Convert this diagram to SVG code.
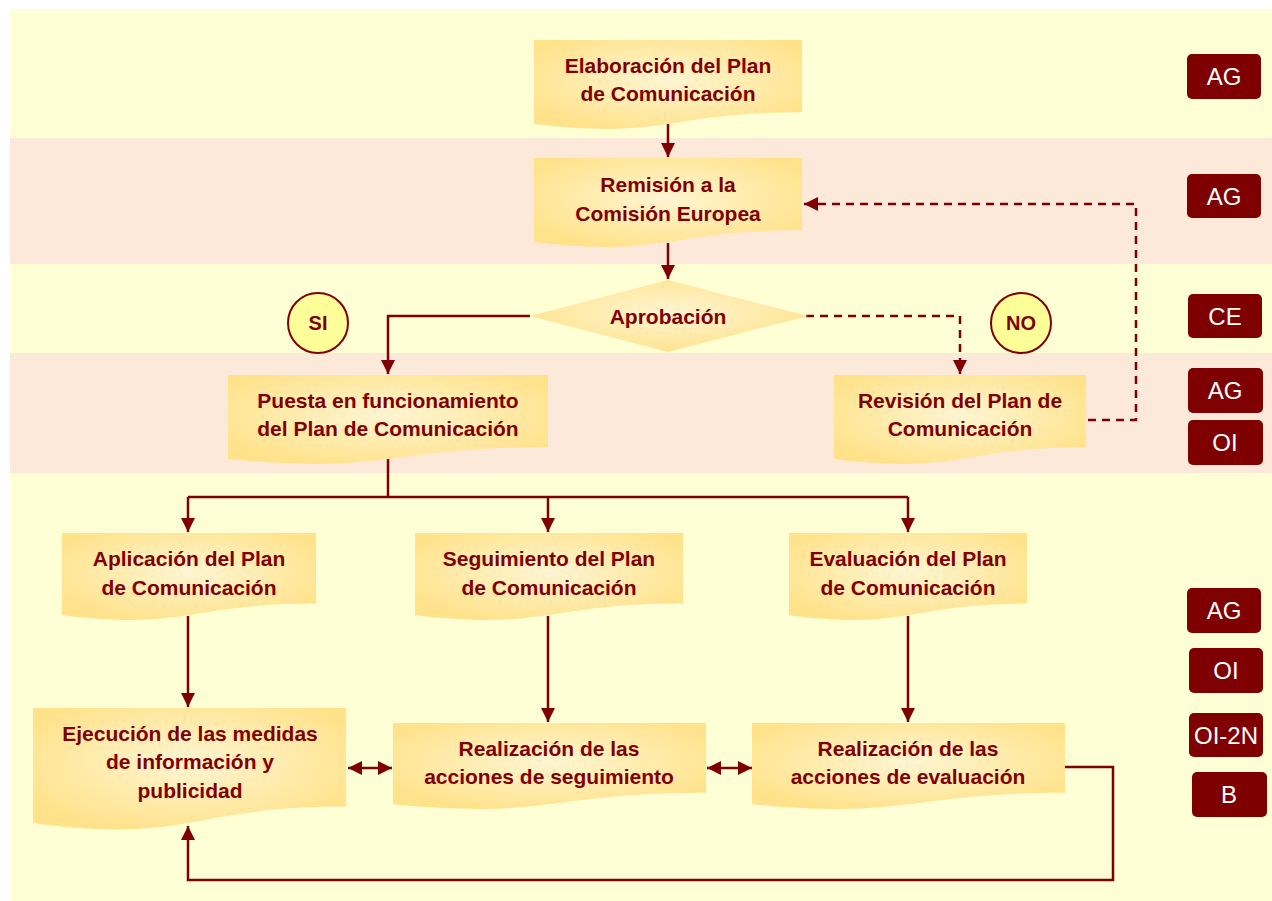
<svg xmlns="http://www.w3.org/2000/svg" width="1272" height="901" viewBox="0 0 1272 901">
<defs>
<radialGradient id="g" cx="50%" cy="45%" r="60%">
<stop offset="0" stop-color="#FFF5D2"/>
<stop offset="1" stop-color="#FFE28A"/>
</radialGradient>
<marker id="arr" markerWidth="14" markerHeight="14" refX="14" refY="7" orient="auto-start-reverse" markerUnits="userSpaceOnUse">
<path d="M0,0 L14,7 L0,14 Z" fill="#7F0000"/>
</marker>
</defs>
<style>
.doc{fill:url(#g)}
.t{font-family:"Liberation Sans",Arial,sans-serif;font-weight:bold;font-size:21px;fill:#7F0000;text-anchor:middle}
.c{fill:none;stroke:#7F0000;stroke-width:2.5}
.d{stroke-dasharray:8 6}
.a{marker-end:url(#arr)}
.lab{fill:#7F0000}
.lt{font-family:"Liberation Sans",Arial,sans-serif;font-size:24px;fill:#FFFFFF;text-anchor:middle}
.circ{fill:#FFFF99;stroke:#7F0000;stroke-width:2}
</style>
<rect x="10" y="9" width="1262" height="892" fill="#FFFFD5"/>
<rect x="10" y="138" width="1262" height="126" fill="#FDE9D9"/>
<rect x="10" y="353" width="1262" height="120" fill="#FDE9D9"/>

<g id="connectors">
<path class="c a" d="M668,124 V157"/>
<path class="c a" d="M668,243 V279"/>
<path class="c a" d="M530,316 H388 V374"/>
<path class="c d a" d="M806,316 H960 V374"/>
<path class="c d a" d="M1088,420 H1136 V204 H804"/>
<path class="c" d="M388,458 V497 M188,497 H908"/>
<path class="c a" d="M188,497 V532"/>
<path class="c a" d="M548,497 V532"/>
<path class="c a" d="M908,497 V532"/>
<path class="c a" d="M188,616 V707"/>
<path class="c a" d="M548,616 V722"/>
<path class="c a" d="M908,616 V722"/>
<path class="c a" style="marker-start:url(#arr)" d="M348,768 H392"/>
<path class="c a" style="marker-start:url(#arr)" d="M707,768 H752"/>
<path class="c a" d="M1065,767 H1113 V880 H188 V826"/>
</g>

<g id="n-elaboracion">
<path class="doc" d="M534,40 H802 V112.2 C668,112.2 668,139.7 534,124.1 Z"/>
<text class="t" x="668" y="73">Elaboración del Plan</text>
<text class="t" x="668" y="101">de Comunicación</text>
</g>
<g id="n-remision">
<path class="doc" d="M534,158 H802 V230.2 C668,230.2 668,257.7 534,242.1 Z"/>
<text class="t" x="668" y="192">Remisión a la</text>
<text class="t" x="668" y="221">Comisión Europea</text>
</g>
<g id="n-aprobacion">
<path class="doc" d="M668,280 L808,316 L668,352 L530,316 Z"/>
<text class="t" x="668" y="324">Aprobación</text>
</g>
<g id="n-si">
<circle class="circ" cx="318" cy="323" r="30"/>
<text class="t" x="318" y="330" style="font-size:20px">SI</text>
</g>
<g id="n-no">
<circle class="circ" cx="1021" cy="323" r="30"/>
<text class="t" x="1021" y="330" style="font-size:20px">NO</text>
</g>
<g id="n-puesta">
<path class="doc" d="M228,375 H548 V447.2 C388,447.2 388,474.7 228,459.1 Z"/>
<text class="t" x="388" y="408">Puesta en funcionamiento</text>
<text class="t" x="388" y="436">del Plan de Comunicación</text>
</g>
<g id="n-revision">
<path class="doc" d="M834,375 H1086 V447.2 C960,447.2 960,474.7 834,459.1 Z"/>
<text class="t" x="960" y="408">Revisión del Plan de</text>
<text class="t" x="960" y="436">Comunicación</text>
</g>
<g id="n-aplicacion">
<path class="doc" d="M62,533 H316 V603.6 C189,603.6 189,630.5 62,615.2 Z"/>
<text class="t" x="189" y="566">Aplicación del Plan</text>
<text class="t" x="189" y="595">de Comunicación</text>
</g>
<g id="n-seguimiento">
<path class="doc" d="M415,533 H683 V603.6 C549,603.6 549,630.5 415,615.2 Z"/>
<text class="t" x="549" y="566">Seguimiento del Plan</text>
<text class="t" x="549" y="595">de Comunicación</text>
</g>
<g id="n-evaluacion">
<path class="doc" d="M789,533 H1027 V603.6 C908,603.6 908,630.5 789,615.2 Z"/>
<text class="t" x="908" y="566">Evaluación del Plan</text>
<text class="t" x="908" y="595">de Comunicación</text>
</g>
<g id="n-ejecucion">
<path class="doc" d="M33,708 H346 V806.6 C189.5,806.6 189.5,844.2 33,822.9 Z"/>
<text class="t" x="190" y="741">Ejecución de las medidas</text>
<text class="t" x="190" y="769">de información y</text>
<text class="t" x="190" y="798">publicidad</text>
</g>
<g id="n-real-seguimiento">
<path class="doc" d="M393,723 H706 V792.8 C549.5,792.8 549.5,819.4 393,804.3 Z"/>
<text class="t" x="549" y="756">Realización de las</text>
<text class="t" x="549" y="784">acciones de seguimiento</text>
</g>
<g id="n-real-evaluacion">
<path class="doc" d="M752,723 H1065 V792.8 C908.5,792.8 908.5,819.4 752,804.3 Z"/>
<text class="t" x="908" y="756">Realización de las</text>
<text class="t" x="908" y="784">acciones de evaluación</text>
</g>

<g id="lab-ag1"><rect class="lab" x="1187" y="54" width="74" height="45" rx="5"/><text class="lt" x="1224" y="85">AG</text></g>
<g id="lab-ag2"><rect class="lab" x="1187" y="174" width="74" height="44" rx="5"/><text class="lt" x="1224" y="205">AG</text></g>
<g id="lab-ce"><rect class="lab" x="1188" y="294" width="74" height="44" rx="5"/><text class="lt" x="1225" y="325">CE</text></g>
<g id="lab-ag3"><rect class="lab" x="1188" y="368" width="75" height="45" rx="5"/><text class="lt" x="1225" y="399">AG</text></g>
<g id="lab-oi1"><rect class="lab" x="1188" y="420" width="75" height="45" rx="5"/><text class="lt" x="1225" y="451">OI</text></g>
<g id="lab-ag4"><rect class="lab" x="1187" y="588" width="74" height="45" rx="5"/><text class="lt" x="1224" y="619">AG</text></g>
<g id="lab-oi2"><rect class="lab" x="1189" y="648" width="74" height="45" rx="5"/><text class="lt" x="1226" y="679">OI</text></g>
<g id="lab-oi2n"><rect class="lab" x="1189" y="713" width="74" height="44" rx="5"/><text class="lt" x="1226" y="744">OI-2N</text></g>
<g id="lab-b"><rect class="lab" x="1192" y="772" width="75" height="45" rx="5"/><text class="lt" x="1229" y="803">B</text></g>
</svg>
